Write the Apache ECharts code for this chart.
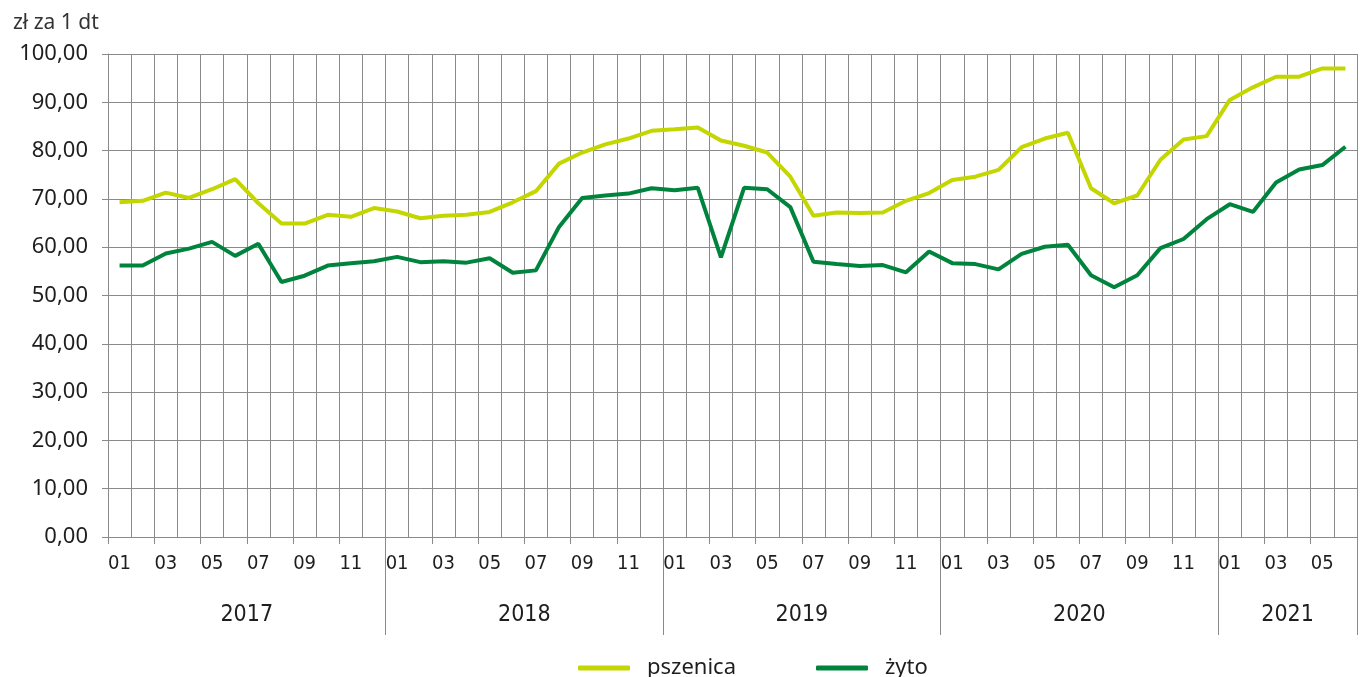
<!DOCTYPE html>
<html>
<head>
<meta charset="utf-8">
<title>Ceny pszenicy i żyta</title>
<script src="https://cdn.jsdelivr.net/npm/echarts@6/dist/echarts.min.js"></script>
<style>
  html, body { margin: 0; padding: 0; background: #fff; }
  #chart { width: 1360px; height: 677px; }
</style>
</head>
<body>
<div id="chart"></div>
<script>
// lata i liczba miesięcy w każdym roku
let years = ['2017', '2018', '2019', '2020', '2021'];
let monthsInYear = [12, 12, 12, 12, 6];
let monthNames = ['01', '02', '03', '04', '05', '06', '07', '08', '09', '10', '11', '12'];
// zł za 1 dt
let pszenica = [
    69.3, 69.6, 71.3, 70.2, 72.0, 74.1, 69.1, 64.9, 64.9, 66.7, 66.3, 68.1,
    67.4, 66.0, 66.5, 66.7, 67.3, 69.3, 71.6, 77.3, 79.6, 81.3, 82.5, 84.1,
    84.4, 84.8, 82.1, 81.0, 79.6, 74.6, 66.5, 67.2, 67.1, 67.2, 69.6, 71.2,
    73.9, 74.6, 76.0, 80.7, 82.5, 83.7, 72.2, 69.1, 70.7, 78.1, 82.3, 83.0,
    90.5, 93.1, 95.3, 95.3, 97.0, 97.0
];
let zyto = [
    56.2, 56.2, 58.7, 59.7, 61.1, 58.2, 60.7, 52.8, 54.1, 56.2, 56.7, 57.1,
    58.0, 56.9, 57.1, 56.8, 57.7, 54.7, 55.2, 64.2, 70.2, 70.7, 71.1, 72.2,
    71.8, 72.3, 57.9, 72.3, 72.0, 68.3, 57.0, 56.5, 56.1, 56.3, 54.8, 59.1,
    56.7, 56.5, 55.4, 58.6, 60.1, 60.5, 54.2, 51.7, 54.2, 59.8, 61.7, 65.8,
    68.9, 67.3, 73.4, 76.1, 77.0, 80.8
];
let seriesNames = ['pszenica', 'żyto'];
let colors = ['#c4d600', '#00843d'];

// kategorie miesięczne i pozycje podpisów lat
let months = [];
let yearStarts = [];
let yearMid = {};
let pos = 0;
for (let i = 0; i < years.length; i++) {
    yearStarts.push(pos);
    yearMid[pos + monthsInYear[i] / 2] = years[i];
    for (let m = 0; m < monthsInYear[i]; m++) {
        months.push(monthNames[m]);
    }
    pos += monthsInYear[i];
}

let gridColor = '#8a8a8a';
let textColor = '#1e1e1e';
let narrowFont = "'DejaVu Sans Condensed', Roboto, sans-serif";
let myChart = echarts.init(document.getElementById('chart'));
myChart.setOption({
    animation: false,
    title: {
        text: 'zł za 1 dt',
        left: 8,
        top: 8,
        textStyle: {
            color: '#333',
            fontSize: 21,
            fontWeight: 'normal',
            fontFamily: 'Noto Sans'
        }
    },
    legend: {
        data: seriesNames,
        left: 573,
        top: 652,
        icon: 'roundRect',
        itemWidth: 52,
        itemHeight: 5,
        itemGap: 80,
        selectedMode: false,
        textStyle: {
            color: textColor,
            fontSize: 22,
            fontFamily: 'Noto Sans',
            padding: [0, 0, 0, 12]
        }
    },
    grid: {
        left: 108,
        right: -7,
        top: 54,
        bottom: 140,
        containLabel: false
    },
    xAxis: [
        {
            type: 'category',
            position: 'bottom',
            data: months,
            boundaryGap: true,
            axisLine: {show: true, lineStyle: {color: gridColor}},
            axisTick: {show: true, length: 7, lineStyle: {color: gridColor}},
            splitLine: {show: true, interval: 0, lineStyle: {color: gridColor, width: 1}},
            axisLabel: {
                interval: 1,
                margin: 17,
                color: textColor,
                fontSize: 20,
                fontFamily: narrowFont
            }
        },
        {
            // linie oddzielające lata
            type: 'category',
            position: 'bottom',
            data: months,
            boundaryGap: true,
            axisLine: {show: false},
            axisLabel: {show: false},
            splitLine: {show: false},
            axisTick: {
                show: true,
                length: 98,
                interval: function (index) {
                    return index > 0 && yearStarts.indexOf(index) >= 0;
                },
                lineStyle: {color: gridColor}
            }
        },
        {
            // podpisy lat
            type: 'value',
            position: 'bottom',
            min: 0,
            max: months.length,
            interval: 3,
            axisLine: {show: false},
            axisTick: {show: false},
            splitLine: {show: false},
            axisLabel: {
                margin: 67,
                color: textColor,
                fontSize: 23,
                fontFamily: narrowFont,
                formatter: function (v) {
                    return yearMid[v] || '';
                }
            }
        }
    ],
    yAxis: {
        type: 'value',
        min: 0,
        max: 100,
        interval: 10,
        axisLine: {show: true, lineStyle: {color: gridColor}},
        axisTick: {show: true, length: 6, lineStyle: {color: gridColor}},
        splitLine: {show: true, lineStyle: {color: gridColor, width: 1}},
        axisLabel: {
            margin: 20,
            color: textColor,
            fontSize: 22,
            fontFamily: 'Noto Sans',
            formatter: function (v) {
                return v.toFixed(2).replace('.', ',');
            }
        }
    },
    series: [
        {
            name: seriesNames[0],
            type: 'line',
            xAxisIndex: 0,
            data: pszenica,
            symbol: 'none',
            lineStyle: {color: colors[0], width: 4},
            itemStyle: {color: colors[0]}
        },
        {
            name: seriesNames[1],
            type: 'line',
            xAxisIndex: 0,
            data: zyto,
            symbol: 'none',
            lineStyle: {color: colors[1], width: 4},
            itemStyle: {color: colors[1]}
        }
    ]
});
window.onresize = function () {
    myChart.resize();
};
</script>
</body>
</html>
